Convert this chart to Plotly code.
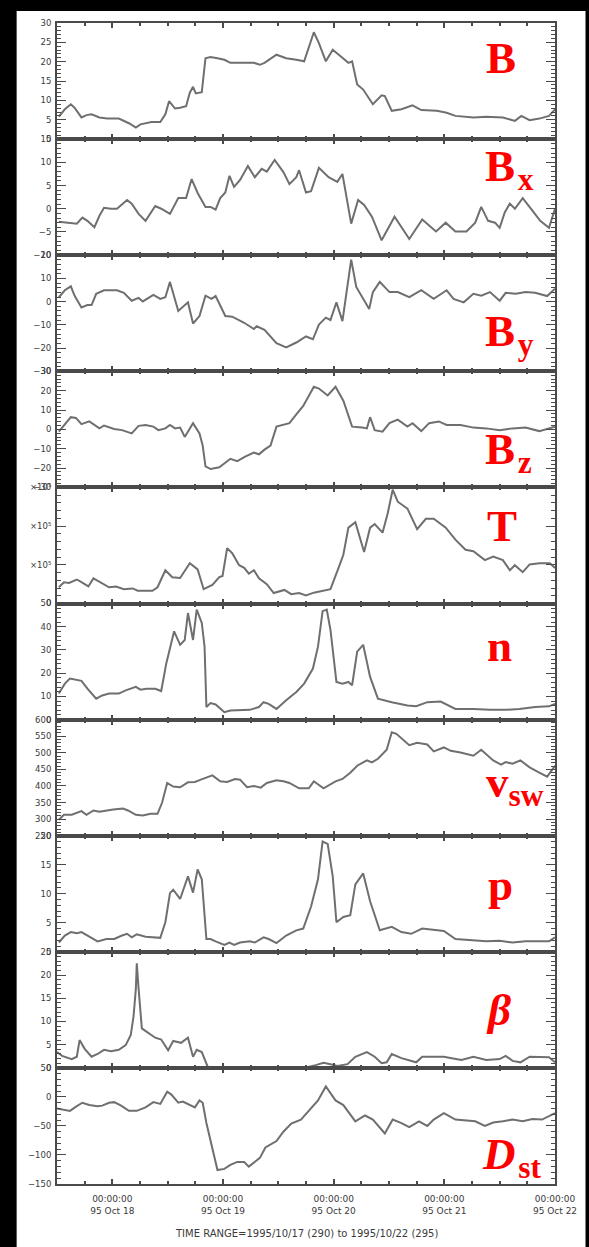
import pandas as pd
import plotly.graph_objects as go
from plotly.subplots import make_subplots

# ---------------- data (time in hours after 1995-10-17 12:00 UT) ----------------
START = pd.Timestamp("1995-10-17 12:00")

B_t = [0.4, 1.7, 3.0, 3.8, 5.3, 6.4, 7.5, 9.2, 10.9, 13.4, 15.6, 17.1, 18.1, 19.4, 20.5, 22.4, 23.5, 24.3,
       25.6, 26.7, 28.0, 28.8, 29.5, 30.1, 31.4, 32.2, 33.3, 34.8, 36.3, 37.6, 39.1, 42.7, 44.0, 45.0, 47.6,
       49.7, 51.9, 53.6, 55.7, 56.8, 58.3, 59.8, 61.5, 63.2, 64.0, 65.1, 66.4, 68.5, 70.4, 71.1, 72.6, 74.7,
       77.1, 79.0, 82.4, 84.5, 86.4, 90.3, 93.1, 96.7, 99.3, 100.7, 102.5, 104.6, 106.7, 108.0]
B_v = [5.8, 7.7, 9.0, 8.1, 5.6, 6.2, 6.4, 5.6, 5.3, 5.3, 4.1, 3.0, 3.8, 4.1, 4.4, 4.4, 6.4, 9.8,
       7.9, 8.1, 8.5, 12.0, 13.5, 11.8, 12.1, 20.9, 21.2, 20.9, 20.5, 19.7, 19.7, 19.7, 19.2, 19.7, 21.8,
       20.9, 20.5, 20.1, 27.6, 24.8, 20.1, 23.1, 21.4, 19.7, 20.1, 14.1, 12.8, 9.0, 11.3, 11.1, 7.3, 7.7,
       8.7, 7.5, 7.3, 6.8, 6.0, 5.6, 5.8, 5.6, 4.7, 6.0, 4.9, 5.3, 6.0, 7.7]

Bx_t = [0.4, 3.4, 4.3, 5.5, 6.6, 8.1, 9.2, 10.2, 11.7, 13.0, 15.2, 16.2, 17.7, 19.2, 21.3, 22.6, 24.5, 26.3,
        28.0, 29.2, 30.5, 32.2, 33.3, 34.4, 35.4, 36.5, 37.4, 38.4, 39.7, 41.4, 42.9, 44.4, 45.5, 47.2, 48.2,
        49.1, 50.4, 51.9, 52.5, 54.0, 55.1, 56.8, 58.9, 60.8, 61.9, 63.8, 65.3, 66.6, 68.3, 70.4, 73.2, 76.4,
        79.2, 82.2, 84.3, 86.4, 88.8, 90.7, 92.0, 93.5, 95.0, 96.0, 97.1, 98.2, 99.3, 101.0, 103.1, 104.8,
        106.7, 108.0]
Bx_v = [-2.8, -3.0, -3.2, -1.9, -2.6, -4.0, -1.5, 0.2, 0.0, 0.0, 1.9, 1.1, -1.1, -2.6, 0.6, 0.0, -1.1, 2.3,
        2.3, 6.4, 3.4, 0.4, 0.4, -0.2, 2.3, 3.5, 7.1, 4.7, 6.2, 9.2, 6.8, 8.6, 8.0, 10.5, 9.0,
        7.9, 5.3, 6.8, 8.3, 3.5, 3.8, 8.8, 6.8, 5.8, 7.5, -3.2, 1.9, 0.8, -1.7, -6.8, -1.7, -6.5,
        -2.3, -4.9, -3.0, -4.9, -4.9, -3.0, 0.4, -2.6, -3.0, -4.1, -0.8, 1.1, 0.0, 2.3, -0.4, -2.6,
        -4.1, 0.0]

By_t = [0.4, 1.7, 3.0, 3.8, 5.3, 6.6, 7.5, 8.5, 10.2, 13.0, 14.5, 16.2, 17.7, 18.6, 20.9, 22.4, 23.5, 24.5,
        26.3, 28.4, 29.5, 30.9, 32.2, 33.5, 34.4, 36.5, 38.0, 40.6, 42.7, 43.3, 45.0, 47.6, 49.7, 51.9, 54.0,
        55.5, 56.8, 58.3, 59.3, 60.6, 61.9, 63.8, 64.9, 66.4, 67.7, 68.5, 70.0, 72.1, 73.9, 76.4, 79.0, 81.7,
        84.5, 86.0, 88.2, 90.3, 92.0, 93.9, 96.0, 97.3, 99.5, 101.6, 103.7, 106.3, 108.0]
By_v = [1.9, 4.9, 6.6, 2.6, -2.5, -1.5, -1.5, 3.4, 4.9, 4.9, 3.8, 0.4, 1.6, 0.1, 2.9, 1.2, 1.9, 8.5,
        -4.0, -0.3, -9.4, -6.2, 2.6, 1.2, 2.4, -6.2, -6.5, -9.1, -11.8, -10.6, -12.1, -17.9, -19.7, -17.6, -15.0,
        -16.2, -9.9, -6.9, -7.9, -0.3, -8.4, 18.1, 6.3, 1.2, -3.2, 4.1, 8.5, 4.1, 4.1, 1.9, 4.9, 1.2,
        4.9, 1.2, -0.3, 3.4, 2.6, 4.1, 0.4, 3.8, 3.4, 4.1, 3.8, 2.4, 5.6]

Bz_t = [0.4, 1.7, 3.0, 4.1, 5.3, 7.0, 9.2, 10.2, 12.4, 14.1, 16.2, 17.7, 19.2, 20.9, 22.0, 23.5, 24.5, 25.6,
        26.7, 27.7, 29.5, 30.9, 31.6, 32.2, 33.3, 35.2, 37.6, 39.1, 40.8, 42.7, 43.8, 45.0, 46.3, 47.6, 49.1,
        50.4, 51.9, 53.4, 55.7, 56.8, 58.7, 60.4, 62.1, 64.0, 66.2, 67.2, 67.9, 68.9, 70.6, 72.1, 73.9, 76.0,
        77.1, 79.0, 80.7, 82.8, 84.5, 87.5, 90.3, 93.1, 96.0, 98.8, 101.6, 104.6, 108.0]
Bz_v = [-1.2, 2.3, 6.3, 5.9, 2.7, 4.1, 0.5, 2.0, 0.2, -0.4, -2.1, 1.8, 2.3, 1.4, -0.4, 0.5, 2.3, 0.5,
        0.9, -3.9, 3.2, -2.1, -8.4, -19.1, -20.5, -19.6, -15.2, -16.4, -14.1, -12.0, -12.9, -10.5, -8.4, 1.4, 2.3,
        3.2, 7.7, 12.1, 22.0, 21.1, 17.5, 22.0, 14.8, 1.4, 0.9, 0.5, 6.3, -0.4, -1.2, 3.2, 5.0, 1.4,
        3.2, -0.9, 3.2, 4.1, 2.3, 2.3, 0.9, 0.5, -0.4, 0.5, 0.9, -0.9, 1.4]

T_t = [0.4, 1.5, 2.6, 4.3, 5.3, 6.8, 7.9, 9.2, 11.3, 12.8, 14.5, 16.4, 17.5, 20.7, 21.8, 23.5, 25.0, 26.7,
       28.8, 30.5, 31.8, 33.7, 35.2, 35.9, 36.9, 38.0, 39.5, 40.6, 41.6, 42.7, 43.8, 45.5, 47.0, 49.3, 50.8,
       52.5, 54.0, 55.7, 59.3, 61.0, 62.1, 63.2, 64.7, 66.6, 67.9, 68.9, 70.6, 71.7, 72.8, 73.9, 76.0, 78.1,
       80.0, 81.7, 84.3, 86.4, 88.6, 90.3, 92.8, 94.6, 96.7, 98.2, 99.3, 101.0, 102.5, 104.6, 106.9, 108.0]
T_v = [0.42e5, 0.55e5, 0.53e5, 0.62e5, 0.55e5, 0.44e5, 0.65e5, 0.57e5, 0.42e5, 0.44e5, 0.37e5, 0.39e5, 0.33e5,
       0.33e5, 0.42e5, 0.86e5, 0.68e5, 0.66e5, 1.04e5, 0.88e5, 0.37e5, 0.48e5, 0.68e5, 0.71e5, 1.43e5, 1.30e5,
       0.99e5, 0.92e5, 0.77e5, 0.86e5, 0.65e5, 0.50e5, 0.27e5, 0.35e5, 0.24e5, 0.27e5, 0.21e5, 0.28e5, 0.37e5,
       0.90e5, 1.26e5, 1.96e5, 2.10e5, 1.33e5, 1.96e5, 2.05e5, 1.83e5, 2.32e5, 2.94e5, 2.63e5, 2.45e5, 1.92e5,
       2.19e5, 2.19e5, 1.96e5, 1.65e5, 1.39e5, 1.35e5, 1.12e5, 1.21e5, 1.12e5, 0.86e5, 0.99e5, 0.81e5, 1.01e5,
       1.04e5, 1.04e5, 0.92e5]

n_t = [0.4, 1.7, 2.8, 4.3, 5.3, 6.6, 8.5, 9.8, 11.3, 13.4, 14.9, 17.1, 18.1, 19.4, 21.3, 22.6, 23.7, 25.4,
       26.7, 27.7, 28.4, 29.5, 30.3, 31.4, 32.0, 32.4, 33.3, 34.4, 36.3, 37.6, 41.8, 43.8, 44.8, 45.9, 47.6,
       49.7, 51.9, 53.6, 55.5, 56.6, 57.6, 58.5, 59.3, 60.6, 61.9, 63.2, 64.0, 65.1, 66.4, 67.9, 69.6, 72.6,
       76.0, 77.9, 80.3, 83.2, 86.4, 90.3, 93.9, 97.3, 100.3, 103.7, 106.7, 108.0]
n_v = [11.2, 15.5, 17.7, 17.0, 16.7, 13.3, 9.0, 10.4, 11.2, 11.2, 12.6, 14.1, 12.9, 13.3, 13.3, 12.3, 24.2, 38.0,
       32.2, 34.3, 45.9, 34.3, 47.4, 41.6, 31.4, 5.4, 7.1, 6.5, 3.2, 3.9, 4.2, 5.4, 7.5, 6.8, 4.6,
       8.3, 11.9, 15.5, 22.0, 31.4, 46.7, 47.4, 38.7, 16.2, 15.5, 16.2, 14.8, 29.3, 32.2, 18.4, 9.0, 7.5,
       6.1, 5.8, 7.5, 7.8, 4.6, 4.6, 4.2, 4.2, 4.6, 5.4, 5.7, 6.8]

vsw_t = [0.4, 1.5, 3.2, 5.3, 6.4, 7.9, 9.2, 10.7, 12.2, 14.3, 15.4, 17.1, 18.6, 20.3, 21.8, 22.8, 23.9, 25.2,
         26.7, 28.4, 29.9, 31.2, 32.7, 33.7, 35.4, 36.9, 38.6, 39.7, 41.2, 42.7, 44.2, 45.5, 47.6, 49.1, 50.4,
         52.5, 54.6, 55.7, 57.8, 60.4, 61.9, 63.6, 65.1, 67.2, 68.3, 69.6, 71.5, 72.6, 73.6, 74.9, 76.4, 78.1,
         79.2, 80.3, 81.7, 83.9, 85.4, 87.5, 90.3, 92.0, 94.6, 96.3, 97.3, 98.8, 100.5, 102.5, 104.6, 106.3, 108.0]
vsw_v = [298, 313, 313, 324, 313, 326, 322, 326, 329, 332, 326, 313, 311, 316, 316, 350, 409, 398,
         396, 411, 412, 419, 428, 432, 414, 412, 421, 419, 396, 400, 395, 409, 417, 414, 409,
         393, 393, 414, 393, 414, 421, 440, 461, 477, 471, 482, 509, 562, 557, 541, 523, 530,
         528, 525, 504, 516, 506, 501, 491, 509, 477, 464, 472, 467, 477, 456, 440, 428, 461]

p_t = [0.4, 1.7, 3.0, 4.3, 5.3, 7.0, 8.8, 10.7, 12.4, 14.1, 15.2, 16.2, 17.3, 19.2, 20.9, 22.4, 23.5, 24.5,
       25.2, 26.7, 28.4, 29.5, 30.5, 31.4, 32.4, 33.3, 34.4, 36.3, 37.4, 38.4, 39.7, 41.8, 42.9, 44.8, 45.9,
       47.6, 49.7, 51.9, 53.4, 55.1, 56.6, 57.6, 58.7, 59.8, 60.6, 62.1, 63.6, 64.7, 66.4, 67.9, 70.0, 72.6,
       74.7, 76.8, 79.2, 81.7, 83.9, 86.4, 90.3, 93.1, 96.0, 98.8, 101.6, 104.6, 106.7, 108.0]
p_v = [1.6, 2.8, 3.4, 3.2, 3.4, 2.6, 1.8, 2.2, 2.2, 2.8, 3.1, 2.5, 3.0, 2.6, 2.5, 2.4, 5.1, 10.1,
       10.7, 9.1, 13.0, 10.2, 14.2, 12.5, 2.2, 2.2, 1.8, 1.2, 1.6, 1.2, 1.6, 1.8, 1.6, 2.5, 2.2,
       1.5, 2.8, 3.7, 4.0, 7.8, 12.5, 19.0, 18.6, 13.0, 5.1, 6.0, 6.3, 11.6, 13.5, 8.7, 3.7, 4.3,
       3.4, 3.1, 4.0, 3.8, 3.6, 2.2, 1.9, 1.8, 1.9, 1.6, 1.8, 1.8, 1.8, 2.5]

beta_t = [0.0, 1.1, 3.2, 4.3, 4.9, 6.0, 7.5, 8.8, 10.2, 11.7, 13.4, 14.9, 16.0, 16.6, 17.1, 17.3, 17.7, 18.4,
          19.4, 21.3, 22.6, 24.1, 25.2, 26.9, 28.4, 29.5, 30.3, 31.4, 32.7, 34.2, 47.6, 54.0, 56.1, 57.8, 59.3,
          60.8, 63.0, 64.7, 67.2, 68.9, 70.4, 71.5, 72.6, 74.7, 77.9, 79.2, 81.7, 83.9, 85.6, 87.7, 90.3, 93.1,
          96.0, 97.3, 98.8, 100.5, 102.5, 104.6, 106.7, 108.0]
beta_v = [3.4, 2.6, 1.9, 2.4, 6.0, 4.1, 2.4, 3.0, 3.9, 3.6, 3.9, 4.9, 7.1, 11.1, 17.0, 22.5, 17.0, 8.5,
          7.8, 6.5, 6.1, 3.8, 5.8, 5.4, 6.5, 2.4, 3.9, 3.4, 0.2, 0.1, 0.1, 0.1, 0.6, 1.1, 0.8,
          0.4, 0.8, 2.4, 3.4, 2.4, 1.0, 1.2, 3.0, 2.1, 1.2, 2.4, 2.4, 2.4, 2.1, 1.7, 2.4, 1.7,
          1.9, 2.6, 1.5, 1.2, 2.4, 2.3, 2.3, 1.2]

Dst_t = [0.0, 1.3, 2.8, 4.3, 5.5, 7.0, 8.8, 9.8, 11.3, 12.4, 13.9, 15.6, 17.3, 19.2, 20.9, 22.4, 23.9, 24.8,
         26.3, 27.3, 28.8, 29.9, 30.9, 31.6, 32.4, 33.7, 34.8, 36.3, 37.6, 39.1, 40.6, 41.6, 42.9, 44.0, 45.2,
         46.5, 47.6, 49.1, 50.8, 52.9, 54.6, 56.6, 58.3, 60.4, 62.1, 64.7, 66.8, 68.5, 71.1, 72.8, 74.7, 76.4,
         78.5, 80.3, 81.7, 83.9, 86.4, 88.8, 90.7, 92.8, 94.6, 96.7, 98.8, 101.0, 103.1, 105.2, 108.0]
Dst_v = [-20, -22, -24, -16, -10, -14, -16, -15, -10, -9, -15, -24, -24, -18, -9, -12, 9, 4,
         -10, -8, -14, -18, -6, -10, -45, -92, -126, -124, -117, -112, -112, -120, -111, -105, -87,
         -81, -76, -60, -46, -39, -24, -6, 18, -6, -14, -42, -32, -39, -63, -39, -45, -52,
         -42, -50, -39, -28, -39, -40, -42, -50, -44, -42, -39, -42, -38, -39, -28]

# axis settings per panel
Y_RANGES = [[0, 30], [-10, 15], [-30, 20], [-30, 30], [0, 3e5], [0, 50], [250, 600], [0, 20], [0, 25], [-150, 50]]
Y_TICKVALS = [
    [0, 5, 10, 15, 20, 25, 30],
    [-10, -5, 0, 5, 10, 15],
    [-30, -20, -10, 0, 10, 20],
    [-30, -20, -10, 0, 10, 20, 30],
    [0, 1e5, 2e5, 3e5],
    [0, 10, 20, 30, 40, 50],
    [250, 300, 350, 400, 450, 500, 550, 600],
    [0, 5, 10, 15, 20],
    [0, 5, 10, 15, 20, 25],
    [-150, -100, -50, 0, 50],
]
Y_TICKTEXT = [
    ["0", "5", "10", "15", "20", "25", "30"],
    ["\u221210", "\u22125", "0", "5", "10", "15"],
    ["\u221230", "\u221220", "\u221210", "0", "10", "20"],
    ["\u221230", "\u221220", "\u221210", "0", "10", "20", "30"],
    ["0", "\u00d710\u2075", "\u00d710\u2075", "\u00d710\u2075"],
    ["0", "10", "20", "30", "40", "50"],
    ["250", "300", "350", "400", "450", "500", "550", "600"],
    ["0", "5", "10", "15", "20"],
    ["0", "5", "10", "15", "20", "25"],
    ["\u2212150", "\u2212100", "\u221250", "0", "50"],
]
Y_MINOR = [1, 1, 2, 2, 2e4, 2, 10, 1, 1, 10]

LABELS = ["<b>B</b>", "<b>B<sub>\u200ax</sub></b>", "<b>B<sub>\u200ay</sub></b>", "<b>B<sub>\u200az</sub></b>",
          "<b>T</b>", "<b>n</b>", "<b>v<sub>sw</sub></b>", "<b>p</b>", "<b><i>\u03b2</i></b>",
          "<b><i>D</i><sub>\u200ast</sub></b>"]

X_TICKVALS = ["1995-10-18", "1995-10-19", "1995-10-20", "1995-10-21", "1995-10-22"]
X_TICKTEXT = ["00:00:00<br>95 Oct 18", "00:00:00<br>95 Oct 19", "00:00:00<br>95 Oct 20",
              "00:00:00<br>95 Oct 21", "00:00:00<br>95 Oct 22"]
TIME_RANGE_TEXT = "TIME RANGE=1995/10/17 (290) to 1995/10/22 (295)"

SERIES = [(B_t, B_v), (Bx_t, Bx_v), (By_t, By_v), (Bz_t, Bz_v), (T_t, T_v),
          (n_t, n_v), (vsw_t, vsw_v), (p_t, p_v), (beta_t, beta_v), (Dst_t, Dst_v)]

# ---------------- figure ----------------
W, H = 589, 1247
ML, MR, MT, MB = 57, 26, 23, 63
PW, PH = W - ML - MR, H - MT - MB


def px_x(px):
    return (px - ML) / PW


def px_y(py):
    return (H - MB - py) / PH


fig = make_subplots(rows=10, cols=1, shared_xaxes=True, vertical_spacing=0)

LINE_C = "#6f6f6f"
AX_C = "#4a4a4a"
TXT_C = "#3a3a3a"

for i, (t, v) in enumerate(SERIES):
    x = [START + pd.Timedelta(hours=h) for h in t]
    fig.add_trace(go.Scatter(x=x, y=v, mode="lines", line=dict(color=LINE_C, width=2),
                             showlegend=False, hoverinfo="skip"), row=i + 1, col=1)
    fig.update_yaxes(range=Y_RANGES[i], tickmode="array", tickvals=Y_TICKVALS[i], ticktext=Y_TICKTEXT[i],
                     minor=dict(dtick=Y_MINOR[i], ticks="inside", ticklen=4, tickcolor=AX_C, tickwidth=1),
                     row=i + 1, col=1)

fig.update_yaxes(showgrid=False, zeroline=False, showline=True, linecolor=AX_C, linewidth=2,
                 mirror="allticks", ticks="inside", ticklen=9, tickwidth=1, tickcolor=AX_C,
                 tickfont=dict(family="DejaVu Sans", size=8.5, color=TXT_C), ticklabelstandoff=2)

fig.update_xaxes(type="date", range=[START, pd.Timestamp("1995-10-22 00:00")], showgrid=False, zeroline=False,
                 showline=True, linecolor=AX_C, linewidth=2, mirror="allticks",
                 tickmode="array", tickvals=X_TICKVALS, ticktext=X_TICKTEXT,
                 ticks="inside", ticklen=5, tickwidth=2, tickcolor=AX_C,
                 minor=dict(dtick=6 * 3600 * 1000, ticks="inside", ticklen=3, tickwidth=2, tickcolor=AX_C),
                 tickfont=dict(family="DejaVu Sans", size=9, color=TXT_C), ticklabelstandoff=5)

# red panel labels: (left px, baseline px)
LABEL_POS = [(493, 73), (492, 181), (492, 346), (492, 464), (494, 541),
             (494, 661), (493, 797), (495, 900), (493, 1025), (489, 1169)]
FS = 45
for lab, (lx, base) in zip(LABELS, LABEL_POS):
    fig.add_annotation(text=lab, xref="paper", yref="paper", x=px_x(lx), y=px_y(base - 0.891 * FS),
                       xanchor="left", yanchor="top", showarrow=False, borderpad=0, borderwidth=0,
                       font=dict(family="Liberation Serif", size=FS, color="#ff0000"))

fig.add_annotation(text=TIME_RANGE_TEXT, xref="paper", yref="paper", x=px_x(311), y=px_y(1233),
                   xanchor="center", yanchor="middle", showarrow=False,
                   font=dict(family="DejaVu Sans", size=10, color=TXT_C))

# white sheet over black background
fig.add_shape(type="rect", xref="paper", yref="paper", x0=px_x(16), x1=px_x(W + 5), y0=px_y(H + 5), y1=px_y(11),
              fillcolor="white", line=dict(width=0), layer="below")

fig.update_layout(width=W, height=H, autosize=False, margin=dict(l=ML, r=MR, t=MT, b=MB),
                  paper_bgcolor="black", plot_bgcolor="white", showlegend=False)

fig.write_html("out.html")
